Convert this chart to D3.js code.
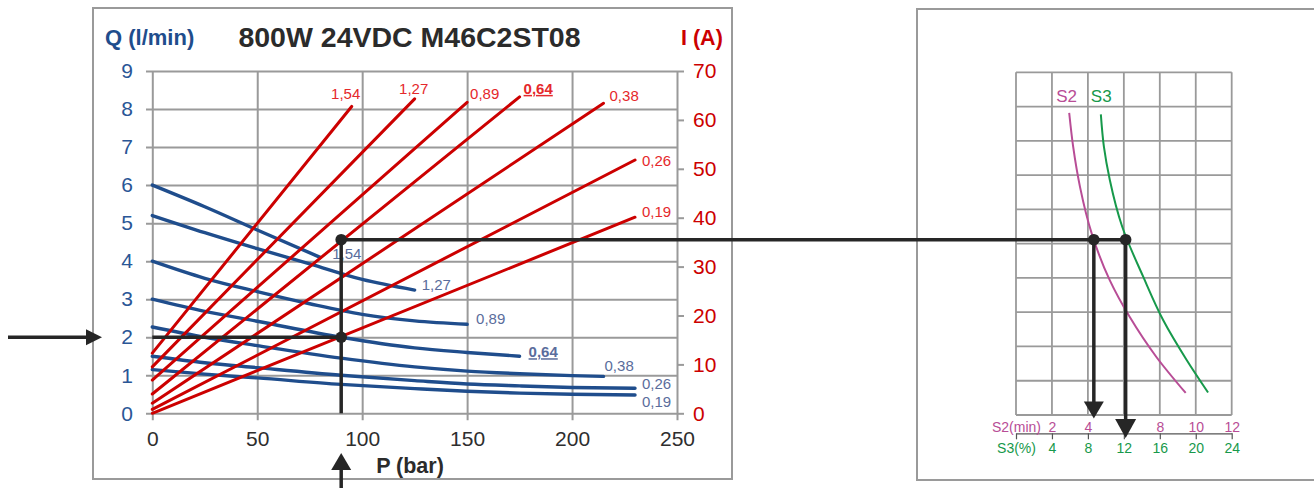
<!DOCTYPE html>
<html><head><meta charset="utf-8">
<script src="https://cdn.jsdelivr.net/npm/d3@7"></script>
<style>
html,body{margin:0;padding:0;background:#fff;}
svg{display:block;font-family:"Liberation Sans",Arial,sans-serif;}
</style></head>
<body>
<svg id="c" width="1314" height="488"></svg>
<script>
// ---------- DATA ----------
const pressureTicks = [0, 50, 100, 150, 200, 250];
const flowTicks = [0, 1, 2, 3, 4, 5, 6, 7, 8, 9];
const currentTicks = [0, 10, 20, 30, 40, 50, 60, 70];
const sizeLabels = ["1,54", "1,27", "0,89", "0,64", "0,38", "0,26", "0,19"];

// flow Q (l/min) vs pressure P (bar)
const flow154 = [[0, 6.0], [25, 5.43], [50, 4.82], [80, 4.1]];
const flow127 = [[0, 5.2], [25, 4.75], [50, 4.33], [75, 3.93], [100, 3.52], [125, 3.24]];
const flow089 = [[0, 4.0], [25, 3.55], [50, 3.2], [75, 2.88], [100, 2.6], [125, 2.43], [150, 2.34]];
const flow064 = [[0, 3.0], [25, 2.68], [50, 2.42], [90, 2.0], [125, 1.72], [150, 1.6], [175, 1.5]];
const flow038 = [[0, 2.27], [25, 2.0], [50, 1.78], [90, 1.45], [125, 1.22], [150, 1.11], [175, 1.04], [200, 0.99], [215, 0.97]];
const flow026 = [[0, 1.5], [25, 1.33], [50, 1.2], [90, 1.0], [125, 0.86], [150, 0.77], [175, 0.72], [200, 0.68], [230, 0.66]];
const flow019 = [[0, 1.15], [25, 1.03], [50, 0.93], [90, 0.76], [125, 0.65], [150, 0.58], [175, 0.53], [200, 0.5], [230, 0.48]];

// current I (A) vs pressure P (bar)
const current154 = [[0, 12.3], [95, 62.75]];
const current127 = [[0, 9.5], [125, 64.3]];
const current089 = [[0, 6.8], [150, 63.6]];
const current064 = [[0, 3.95], [175, 64.7]];
const current038 = [[0, 2.05], [215, 63.4]];
const current026 = [[0, 0.8], [230, 51.8]];
const current019 = [[0, 0.0], [230, 40.1]];

// duty curves: [S2 minutes or S3 percent, I (A)]
const s2Ticks = [0, 2, 4, 6, 8, 10, 12];
const s3Ticks = [0, 4, 8, 12, 16, 20, 24];
const currentRows = [0, 7, 14, 21, 28, 35, 42, 49, 56, 63, 70];
const s2Curve = [[2.96, 61.7], [3.18, 54.8], [3.56, 46.6], [4.21, 37.1], [5.22, 27.5], [6.33, 20.0], [7.82, 11.8], [9.44, 4.5]];
const s3Curve = [[9.44, 61.4], [9.78, 54.8], [10.44, 48.0], [11.81, 38.5], [14.14, 28.3], [16.37, 19.4], [18.97, 11.3], [21.37, 4.6]];

// worked example
const exampleP = 90, exampleQ = 2, exampleI = 35.5, exampleS2 = 4.33, exampleS3 = 12.2;

// ---------- LAYOUT / STYLE ----------
const flows = [flow154, flow127, flow089, flow064, flow038, flow026, flow019];
const currents = [current154, current127, current089, current064, current038, current026, current019];
const redLabelOffset = [[-6, -11, "middle"], [-1, -9, "middle"], [3, -7, "start"], [4, -7, "start"], [6, -6, "start"], [7, 2, "start"], [7, -4, "start"]];
const blueLabelOffset = [[12, -2], [7, -4], [9, -4], [9, -3], [1, -9], [7, -3], [7, 8]];
const FONT = '"Liberation Sans",Arial,sans-serif';
const GRID = "#9a9a9a", BLUE = "#1f4d8c", BLUELBL = "#5a6d9c", RED = "#cc0000", REDLBL = "#e5282b", INK = "#262626";
const S2C = "#b84d96", S3C = "#17994b";

const svg = d3.select("#c");

// frames
svg.append("rect").attr("x", 93).attr("y", 8).attr("width", 639).attr("height", 471)
  .attr("fill", "none").attr("stroke", GRID).attr("stroke-width", 2);
svg.append("rect").attr("x", 917).attr("y", 9).attr("width", 420).attr("height", 471)
  .attr("fill", "none").attr("stroke", GRID).attr("stroke-width", 2);

// scales (left chart)
const x = d3.scaleLinear().domain([0, 250]).range([152.3, 677]);
const yQ = d3.scaleLinear().domain([0, 9]).range([413.3, 71]);
const yI = d3.scaleLinear().domain([0, 70]).range([413.3, 71]);

// grid via axes
const gx = svg.append("g").attr("transform", "translate(0,71)")
  .call(d3.axisBottom(x).tickValues(pressureTicks).tickSizeInner(yQ(0) - 71 + 7).tickSizeOuter(0).tickPadding(11));
const gy = svg.append("g").attr("transform", "translate(146,0)")
  .call(d3.axisLeft(yQ).tickValues(flowTicks).tickSizeInner(-(x(250) - 146)).tickSizeOuter(0).tickPadding(13));
const gr = svg.append("g").attr("transform", `translate(${x(250)},0)`)
  .call(d3.axisRight(yI).tickValues(currentTicks).tickSizeInner(7).tickSizeOuter(0).tickPadding(9));
[gx, gy, gr].forEach(g => {
  g.select(".domain").remove();
  g.selectAll("line").attr("stroke", GRID).attr("stroke-width", 2);
  g.selectAll("text").attr("font-family", FONT);
});
gx.selectAll("text").attr("font-size", 21).attr("fill", "#2e2e2e");
gy.selectAll("text").attr("font-size", 21).attr("fill", "#2a5696");
gr.selectAll("text").attr("font-size", 21).attr("fill", RED);

// titles
svg.append("text").attr("x", 409.5).attr("y", 46.5).attr("text-anchor", "middle")
  .attr("font-size", 28.5).attr("font-weight", "bold").attr("fill", "#2b2b2b").text("800W 24VDC M46C2ST08");
svg.append("text").attr("x", 105).attr("y", 44.5).attr("font-size", 22).attr("font-weight", "bold")
  .attr("fill", BLUE).text("Q (l/min)");
svg.append("text").attr("x", 681).attr("y", 45).attr("font-size", 21.5).attr("font-weight", "bold")
  .attr("fill", RED).text("I (A)");
svg.append("text").attr("x", 410).attr("y", 473).attr("text-anchor", "middle").attr("font-size", 21.5)
  .attr("font-weight", "bold").attr("fill", "#2b2b2b").text("P (bar)");

// blue flow curves
const flowLine = d3.line().x(d => x(d[0])).y(d => yQ(d[1])).curve(d3.curveMonotoneX);
flows.forEach((f, i) => {
  svg.append("path").attr("d", flowLine(f)).attr("fill", "none").attr("stroke", BLUE)
    .attr("stroke-width", 3.4).attr("stroke-linecap", "round");
});
// red current lines
const curLine = d3.line().x(d => x(d[0])).y(d => yI(d[1]));
currents.forEach((c, i) => {
  svg.append("path").attr("d", curLine(c)).attr("fill", "none").attr("stroke", RED)
    .attr("stroke-width", 3).attr("stroke-linecap", "round");
});
// labels
sizeLabels.forEach((lbl, i) => {
  const fe = flows[i][flows[i].length - 1];
  const bo = blueLabelOffset[i];
  const t = svg.append("text").attr("x", x(fe[0]) + bo[0]).attr("y", yQ(fe[1]) + bo[1])
    .attr("dominant-baseline", "middle").attr("font-size", 15).attr("fill", BLUELBL).text(lbl);
  const ce = currents[i][currents[i].length - 1];
  const ro = redLabelOffset[i];
  const r = svg.append("text").attr("x", x(ce[0]) + ro[0]).attr("y", yI(ce[1]) + ro[1])
    .attr("dominant-baseline", "middle").attr("text-anchor", ro[2]).attr("font-size", 15).attr("fill", REDLBL).text(lbl);
  if (lbl === "0,64") {
    [t, r].forEach(s => s.attr("font-weight", "bold").style("text-decoration", "underline"));
  }
});

// ---------- right chart ----------
const xS2 = d3.scaleLinear().domain([0, 12]).range([1016, 1231.7]);
const xS3 = d3.scaleLinear().domain([0, 24]).range([1016, 1231.7]);
const yR = d3.scaleLinear().domain([0, 70]).range([415, 72.3]);
const rg = svg.append("g");
rg.selectAll(".v").data(s2Ticks).join("line")
  .attr("x1", d => xS2(d)).attr("x2", d => xS2(d)).attr("y1", yR(70)).attr("y2", yR(0))
  .attr("stroke", GRID).attr("stroke-width", 1.8);
rg.selectAll(".h").data(currentRows).join("line")
  .attr("x1", xS2(0)).attr("x2", xS2(12)).attr("y1", d => yR(d)).attr("y2", d => yR(d))
  .attr("stroke", GRID).attr("stroke-width", 1.8);

const aS2 = svg.append("g").attr("transform", "translate(0,433.3)")
  .call(d3.axisTop(xS2).tickValues(s2Ticks).tickSizeInner(0).tickSizeOuter(0).tickPadding(1)
    .tickFormat(d => d === 0 ? "S2(min)" : d));
aS2.select(".domain").attr("stroke", "#555").attr("stroke-width", 1.2);
aS2.selectAll("text").attr("font-family", FONT).attr("font-size", 14).attr("fill", S2C);
const aS3 = svg.append("g").attr("transform", "translate(0,433.3)")
  .call(d3.axisBottom(xS3).tickValues(s3Ticks).tickSizeInner(6).tickSizeOuter(0).tickPadding(4)
    .tickFormat(d => d === 0 ? "S3(%)" : d));
aS3.select(".domain").remove();
aS3.selectAll("line").attr("stroke", "#555").attr("stroke-width", 1.2);
aS3.selectAll("text").attr("font-family", FONT).attr("font-size", 14).attr("fill", S3C);

const s2Line = d3.line().x(d => xS2(d[0])).y(d => yR(d[1])).curve(d3.curveMonotoneY);
const s3Line = d3.line().x(d => xS3(d[0])).y(d => yR(d[1])).curve(d3.curveMonotoneY);
svg.append("path").attr("d", s2Line(s2Curve)).attr("fill", "none").attr("stroke", S2C).attr("stroke-width", 2);
svg.append("path").attr("d", s3Line(s3Curve)).attr("fill", "none").attr("stroke", S3C).attr("stroke-width", 2);
svg.append("text").attr("x", xS2(s2Curve[0][0]) - 13).attr("y", 98).attr("dominant-baseline", "middle")
  .attr("font-size", 17).attr("fill", S2C).text("S2");
svg.append("text").attr("x", xS3(s3Curve[0][0]) - 10).attr("y", 98).attr("dominant-baseline", "middle")
  .attr("font-size", 17).attr("fill", S3C).text("S3");

// ---------- worked example annotations ----------
const ex = x(exampleP), eyQ = yQ(exampleQ), eyI = yI(exampleI);
const ax1 = xS2(exampleS2), ax2 = xS3(exampleS3);
const ann = svg.append("g").attr("stroke", INK).attr("fill", "none").attr("stroke-width", 3.5);
ann.append("line").attr("x1", x(0)).attr("x2", ex).attr("y1", eyQ).attr("y2", eyQ);
ann.append("line").attr("x1", ex).attr("x2", ex).attr("y1", eyI).attr("y2", yQ(0));
ann.append("line").attr("x1", ex).attr("x2", ax2).attr("y1", eyI).attr("y2", eyI);
ann.append("line").attr("x1", ex).attr("x2", ex).attr("y1", 470).attr("y2", 488);
ann.append("line").attr("x1", 8).attr("x2", 90).attr("y1", eyQ).attr("y2", eyQ);
ann.append("line").attr("x1", ax1).attr("x2", ax1).attr("y1", eyI).attr("y2", 403);
ann.append("line").attr("x1", ax2).attr("x2", ax2).attr("y1", eyI).attr("y2", 420);
const heads = svg.append("g").attr("fill", INK);
heads.append("path").attr("d", `M${ex - 10},470 L${ex + 10},470 L${ex},453 Z`);
heads.append("path").attr("d", `M86,${eyQ - 8} L86,${eyQ + 8} L102,${eyQ} Z`);
heads.append("path").attr("d", `M${ax1 - 10},401.5 L${ax1 + 10},401.5 L${ax1},418.5 Z`);
heads.append("path").attr("d", `M${ax2 - 10.5},419 L${ax2 + 10.5},419 L${ax2},438 Z`);
[[ex, eyQ], [ex, eyI], [ax1, eyI], [ax2, eyI]].forEach(p => {
  heads.append("circle").attr("cx", p[0]).attr("cy", p[1]).attr("r", 5.8);
});
</script>
</body></html>
